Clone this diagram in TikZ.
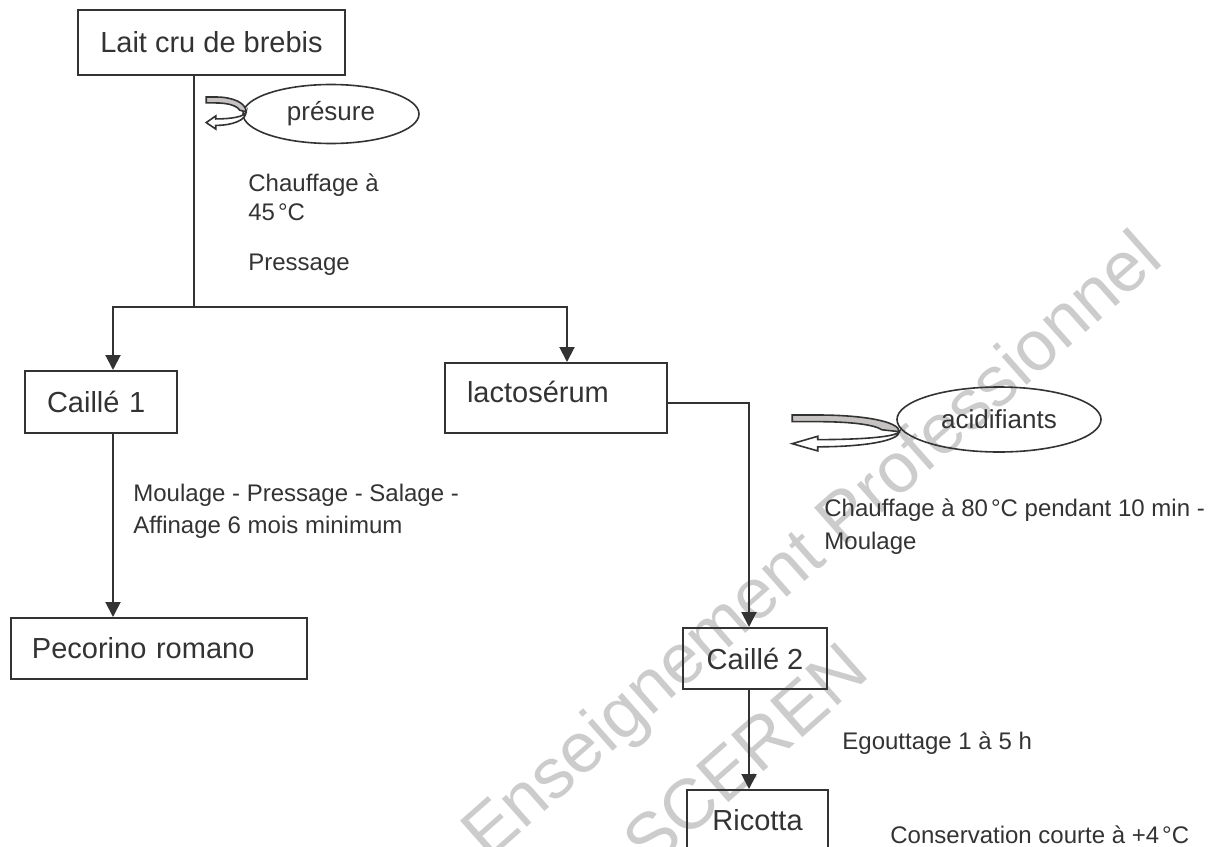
\documentclass[tikz,border=0pt]{standalone}
\usepackage{fontspec}
\setmainfont{Liberation Sans}
\usepackage{tikz}
\usetikzlibrary{shapes.geometric, arrows.meta, calc}
\usepackage{xcolor}
\definecolor{inkgray}{rgb}{0.2, 0.2, 0.2}
\definecolor{bandgray}{rgb}{0.78, 0.76, 0.76}
\definecolor{markgray}{rgb}{0.8, 0.8, 0.8}

\tikzset{
    pics/uturn/.style={code={
        \draw[inkgray, line width=0.8pt, fill=white] (0.05,-0.1) .. controls (0.02,0.2) and (-0.35,0.33) .. (-0.75,0.33) -- (-0.75,0.15) -- (-1,0.55) -- (-0.75,0.94) -- (-0.75,0.72) .. controls (-0.3,0.72) and (0.05,0.4) .. (0.05,-0.1) -- cycle;
        \draw[inkgray, line width=0.8pt, fill=bandgray] (-1,-1) -- (-0.75,-1) .. controls (-0.3,-1) and (0.05,-0.65) .. (0.05,-0.1) -- (-0.12,-0.2) .. controls (-0.2,-0.5) and (-0.45,-0.64) .. (-0.75,-0.64) -- (-1,-0.64) -- cycle;
    }}
}

\begin{document}
\begin{tikzpicture}[
        x=0.5pt, y=-0.5pt,
        every node/.style={text=inkgray},
        block/.style={rectangle, draw=inkgray, line width=1pt, inner sep=0pt, align=center, font=\fontsize{14.5}{17}\selectfont},
        leftblock/.style={block, align=left},
        oval/.style={ellipse, draw=inkgray, line width=0.8pt, inner sep=0pt, font=\fontsize{13}{15}\selectfont},
        note/.style={anchor=west, align=left, inner sep=0pt, font=\fontsize{12}{16}\selectfont},
        wmark/.style={text=markgray, inner sep=0pt, rotate=41.5, anchor=base west, font=\fontsize{35.5}{41}\selectfont},
        line/.style={draw=inkgray, line width=1pt},
        arrow/.style={line, -{Triangle[length=7.5pt,width=7.5pt]}}
    ]
        \useasboundingbox (0,0) rectangle (1208,846);
        \clip (0,0) rectangle (1208,846);

        \node [wmark] (wm1) at (488,862) {Enseignement Professionnel};
        \node [wmark] (wm2) at (650,872) {SCEREN};

        \node [block, minimum width=133.5pt, minimum height=32.5pt] (lait) at (211.5,42.5) {Lait cru de brebis};
        \node [oval, minimum width=88pt, minimum height=29.5pt] (presure) at (331,114) {présure};
        \node [leftblock, inner xsep=11pt, text width=54pt, minimum height=31pt] (caille1) at (101,402) {Caillé 1};
        \node [leftblock, inner xsep=11pt, text width=89pt, minimum height=35pt, text depth=6pt] (lacto) at (556,398) {lactosérum};
        \node [oval, minimum width=102pt, minimum height=32.5pt] (acid) at (999,419.5) {acidifiants};
        \node [leftblock, inner xsep=10.5pt, text width=127pt, minimum height=30.5pt] (pecorino) at (159,648.5) {Pecorino romano};
        \node [block, minimum width=72pt, minimum height=30.5pt] (caille2) at (755,658.5) {Caillé 2};
        \node [block, minimum width=70.5pt, minimum height=30pt] (ricotta) at (757.5,820) {Ricotta};

        \node [note, font=\fontsize{12}{14.5}\selectfont] (chauf1) at (248,197.5) {Chauffage à\\45\kern1.5pt°C};
        \node [note] (press) at (248,265) {Pressage};
        \node [note] (moul) at (133,511) {Moulage - Pressage - Salage -\\Affinage 6 mois minimum};
        \node [note, font=\fontsize{12}{16.5}\selectfont] (chauf2) at (824,526.5) {Chauffage à 80\kern1.5pt°C pendant 10 min -\\Moulage};
        \node [note] (egout) at (842,743) {Egouttage 1 à 5 h};
        \node [note] (conserv) at (890,835) {Conservation courte à +4\kern1.5pt°C};

        \pic [xscale=38, yscale=16.5] at ($(presure.west)+(2,-0.5)$) {uturn};
        \pic [xscale=102, yscale=18.5] at ($(acid.west)+(-2,14)$) {uturn};

        \coordinate (split) at (194,307);
        \draw [line] (lait.south -| split) -- (split);
        \draw [arrow] (split) -| ($(caille1.north)+(12,0)$);
        \draw [arrow] (split) -| ($(lacto.north)+(11,0)$);
        \draw [arrow] ($(caille1.south)+(12,0)$) coordinate (c1) -- (c1 |- pecorino.north);
        \draw [arrow] ($(lacto.east)+(0,5)$) -| ($(caille2.north)+(-6,0)$);
        \draw [arrow] ($(caille2.south)+(-6,0)$) coordinate (c2) -- (c2 |- ricotta.north);
    \end{tikzpicture}
\end{document}
